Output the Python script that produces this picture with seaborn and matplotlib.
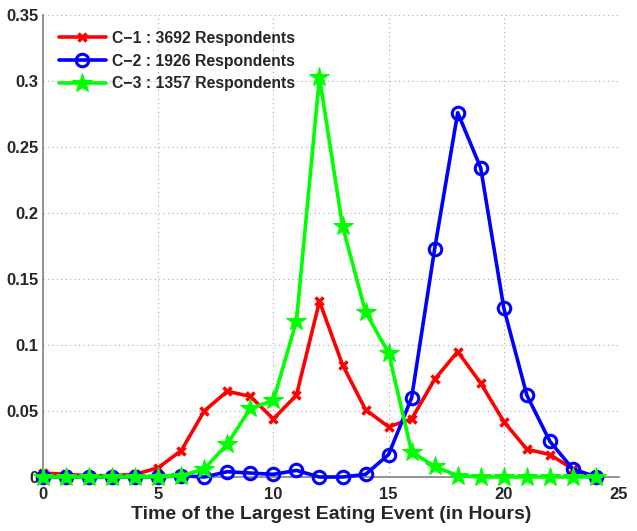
# plot.py
# Distribution of the time of the largest eating event for three clusters

import numpy as np
import pandas as pd
import matplotlib
matplotlib.use("Agg")
import matplotlib.pyplot as plt
import seaborn as sns

hours = list(range(25))

c1_values = [0.003, 0.002, 0.001, 0.001, 0.002, 0.007, 0.020, 0.050, 0.065, 0.061,
             0.044, 0.062, 0.133, 0.085, 0.051, 0.038, 0.044, 0.074, 0.095, 0.071,
             0.042, 0.021, 0.017, 0.006, 0.000]
c2_values = [0.000, 0.000, 0.000, 0.000, 0.000, 0.000, 0.001, 0.000, 0.004, 0.003,
             0.002, 0.005, 0.000, 0.000, 0.002, 0.017, 0.060, 0.173, 0.276, 0.234,
             0.128, 0.062, 0.027, 0.006, 0.000]
c3_values = [0.000, 0.000, 0.000, 0.000, 0.000, 0.000, 0.001, 0.006, 0.025, 0.052,
             0.058, 0.118, 0.303, 0.190, 0.125, 0.094, 0.019, 0.008, 0.001, 0.000,
             0.000, 0.000, 0.000, 0.000, 0.000]

series_labels = ["C\u22121 : 3692 Respondents",
                 "C\u22122 : 1926 Respondents",
                 "C\u22123 : 1357 Respondents"]

x_ticks = [0, 5, 10, 15, 20, 25]
y_ticks = [0, 0.05, 0.1, 0.15, 0.2, 0.25, 0.3, 0.35]
y_tick_labels = ["0", "0.05", "0.1", "0.15", "0.2", "0.25", "0.3", "0.35"]

sns.set_style("white")
plt.rcParams['font.family'] = ['Liberation Sans', 'DejaVu Sans']
plt.rcParams['font.weight'] = 'bold'

fig = plt.figure(figsize=(6.37, 5.31), dpi=100)
ax = fig.add_axes([43 / 637, 54 / 531, 576 / 637, 462 / 531])

df = pd.DataFrame({"hour": hours, "c1": c1_values, "c2": c2_values, "c3": c3_values})

sns.lineplot(data=df, x="hour", y="c1", ax=ax, color="#ff0000", linewidth=2.6,
             marker="x", markersize=6, markeredgecolor="#ff0000", markeredgewidth=2.5,
             label=series_labels[0], clip_on=False, zorder=3)
sns.lineplot(data=df, x="hour", y="c2", ax=ax, color="#0000ff", linewidth=2.6,
             marker="o", markersize=9, markerfacecolor="none", markeredgecolor="#0000ff",
             markeredgewidth=2.2, label=series_labels[1], clip_on=False, zorder=3)
sns.lineplot(data=df, x="hour", y="c3", ax=ax, color="#00ff00", linewidth=2.6,
             marker="*", markersize=15, markeredgecolor="#00ff00", label=series_labels[2],
             clip_on=False, zorder=3)

ax.set_xlim(0, 25)
ax.set_ylim(0, 0.35)
ax.set_xticks(x_ticks)
ax.set_yticks(y_ticks)
ax.set_yticklabels(y_tick_labels)
ax.tick_params(direction="in", length=4, color="#808080", labelsize=12)
ax.tick_params(axis="x", pad=7)
ax.tick_params(axis="y", pad=3)
for lab in ax.get_xticklabels() + ax.get_yticklabels():
    lab.set_fontweight("bold")

ax.grid(True, linestyle=(0, (1, 3)), color="#aaaaaa", linewidth=0.8)
ax.spines["top"].set_visible(False)
ax.spines["right"].set_visible(False)
ax.spines["left"].set_color("#808080")
ax.spines["bottom"].set_color("#808080")
ax.spines["left"].set_linewidth(1.2)
ax.spines["bottom"].set_linewidth(1.2)

ax.set_xlabel("Time of the Largest Eating Event (in Hours)", fontsize=14,
              fontweight="bold", labelpad=3)
ax.set_ylabel("")

leg = ax.legend(loc="upper left", frameon=False, handlelength=3.0,
                borderaxespad=0.6, labelspacing=0.5, handletextpad=0.4,
                prop={"weight": "bold", "size": 11.3})

fig.savefig("out.png", dpi=100)
